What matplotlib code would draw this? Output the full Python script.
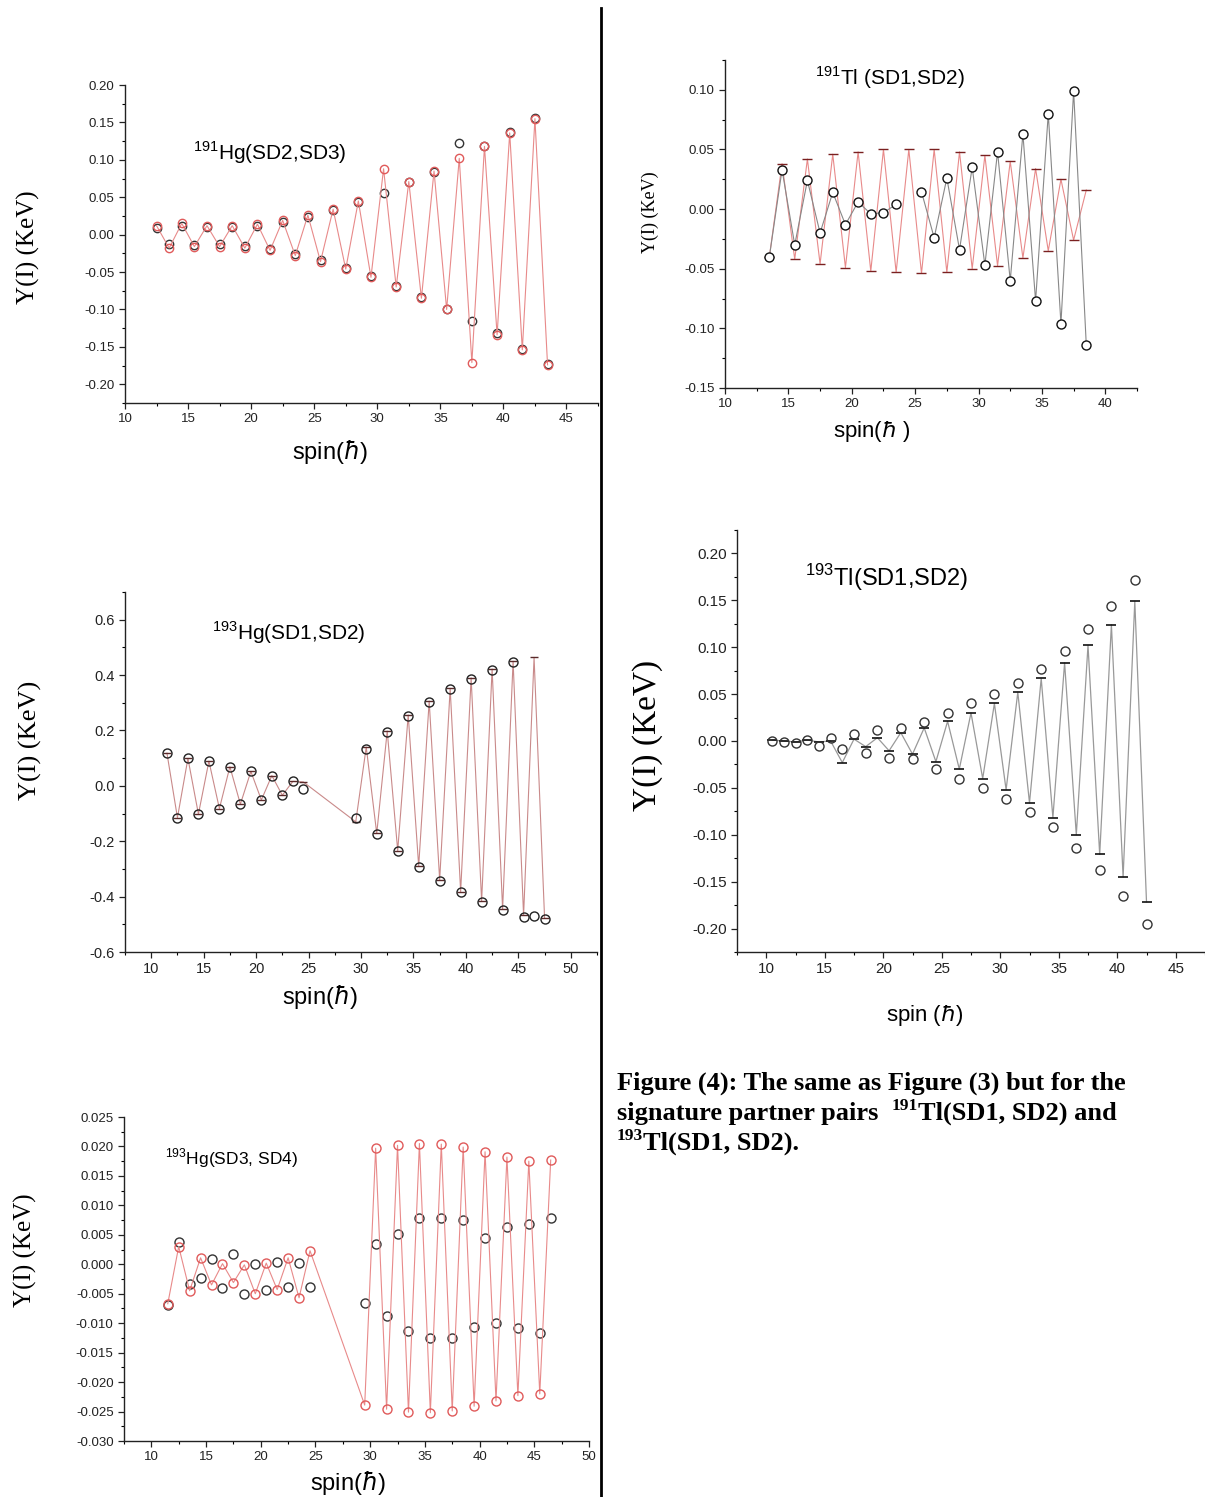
import numpy as np
import matplotlib
matplotlib.use('Agg')
import matplotlib.pyplot as plt
from matplotlib.lines import Line2D
from matplotlib.ticker import MultipleLocator, FormatStrFormatter

plt.rcParams['font.family'] = ['Liberation Sans', 'DejaVu Sans']
plt.rcParams['axes.unicode_minus'] = False

W, H = 1205, 1497

# ---------------- data ----------------
# 191Hg(SD2,SD3)
hg191_spin = [12.5, 13.5, 14.5, 15.5, 16.5, 17.5, 18.5, 19.5, 20.5, 21.5, 22.5, 23.5, 24.5, 25.5, 26.5, 27.5,
              28.5, 29.5, 30.5, 31.5, 32.5, 33.5, 34.5, 35.5, 36.5, 37.5, 38.5, 39.5, 40.5, 41.5, 42.5, 43.5]
hg191_red = [0.012, -0.018, 0.015, -0.016, 0.012, -0.016, 0.012, -0.018, 0.014, -0.021, 0.019, -0.028, 0.026, -0.036,
             0.034, -0.046, 0.045, -0.057, 0.088, -0.070, 0.071, -0.085, 0.085, -0.100, 0.102, -0.171, 0.118, -0.134,
             0.136, -0.154, 0.155, -0.174]
hg191_black = [0.009, -0.013, 0.012, -0.014, 0.010, -0.013, 0.010, -0.015, 0.012, -0.019, 0.017, -0.026, 0.024, -0.034,
               0.033, -0.045, 0.044, -0.055, 0.056, -0.068, 0.070, -0.083, 0.084, -0.099, 0.123, -0.116, 0.119, -0.132,
               0.137, -0.153, 0.156, -0.173]

# 191Tl(SD1,SD2)
tl191_spin = [13.5, 14.5, 15.5, 16.5, 17.5, 18.5, 19.5, 20.5, 21.5, 22.5, 23.5, 24.5, 25.5, 26.5, 27.5, 28.5,
              29.5, 30.5, 31.5, 32.5, 33.5, 34.5, 35.5, 36.5, 37.5, 38.5]
tl191_black = [-0.040, 0.033, -0.030, 0.024, -0.020, 0.014, -0.013, 0.006, -0.004, -0.003, 0.004, np.nan, 0.0145,
               -0.024, 0.026, -0.034, 0.035, -0.047, 0.048, -0.060, 0.063, -0.077, 0.080, -0.096, 0.099, -0.114]
tl191_red = [-0.040, 0.038, -0.042, 0.042, -0.046, 0.046, -0.049, 0.048, -0.052, 0.050, -0.053, 0.050, -0.054,
             0.050, -0.053, 0.048, -0.050, 0.045, -0.0475, 0.040, -0.041, 0.034, -0.035, 0.025, -0.026, 0.016]

# 193Hg(SD1,SD2)
hg193a_spin = [11.5, 12.5, 13.5, 14.5, 15.5, 16.5, 17.5, 18.5, 19.5, 20.5, 21.5, 22.5, 23.5, 24.5,
               29.5, 30.5, 31.5, 32.5, 33.5, 34.5, 35.5, 36.5, 37.5, 38.5, 39.5, 40.5, 41.5, 42.5, 43.5,
               44.5, 45.5, 46.5, 47.5]
hg193a_circ = [0.118, -0.115, 0.099, -0.102, 0.089, -0.082, 0.069, -0.066, 0.052, -0.051, 0.037, -0.034, 0.016,
               -0.011, -0.115, 0.133, -0.175, 0.194, -0.237, 0.252, -0.294, 0.304, -0.343, 0.348, -0.384, 0.386,
               -0.419, 0.418, -0.448, 0.446, -0.472, -0.470, -0.480]
hg193a_line = [0.118, -0.115, 0.099, -0.102, 0.089, -0.082, 0.069, -0.066, 0.052, -0.051, 0.037, -0.034, 0.016,
               0.014, -0.130, 0.140, -0.172, 0.198, -0.234, 0.256, -0.290, 0.306, -0.340, 0.352, -0.382, 0.390,
               -0.416, 0.422, -0.445, 0.450, -0.468, 0.464, -0.476]

# 193Tl(SD1,SD2)
tl193_spin = [10.5, 11.5, 12.5, 13.5, 14.5, 15.5, 16.5, 17.5, 18.5, 19.5, 20.5, 21.5, 22.5, 23.5, 24.5, 25.5,
              26.5, 27.5, 28.5, 29.5, 30.5, 31.5, 32.5, 33.5, 34.5, 35.5, 36.5, 37.5, 38.5, 39.5, 40.5, 41.5, 42.5]
tl193_circ = [0.000, -0.001, -0.0025, 0.001, -0.005, 0.003, -0.008, 0.0075, -0.0125, 0.0114, -0.018, 0.014,
              -0.019, 0.020, -0.030, 0.030, -0.040, 0.040, -0.050, 0.0506, -0.062, 0.062, -0.0756, 0.077, -0.092,
              0.096, -0.114, 0.119, -0.138, 0.1436, -0.165, 0.1715, -0.195]
tl193_line = [0.001, 0.0, -0.001, 0.001, -0.001, 0.0, -0.023, 0.002, -0.006, 0.0035, -0.0104, 0.0089, -0.014,
              0.014, -0.022, 0.021, -0.030, 0.030, -0.040, 0.040, -0.052, 0.052, -0.066, 0.0667, -0.0816, 0.0834,
              -0.100, 0.102, -0.121, 0.124, -0.145, 0.149, -0.1715]

# 193Hg(SD3,SD4)
hg193b_spin = [11.5, 12.5, 13.5, 14.5, 15.5, 16.5, 17.5, 18.5, 19.5, 20.5, 21.5, 22.5, 23.5, 24.5,
               29.5, 30.5, 31.5, 32.5, 33.5, 34.5, 35.5, 36.5, 37.5, 38.5, 39.5, 40.5, 41.5, 42.5, 43.5,
               44.5, 45.5, 46.5]
hg193b_red = [-0.0067, 0.0030, -0.0045, 0.0011, -0.0035, 0.0001, -0.0031, -0.0001, -0.0050, 0.0002, -0.0043,
              0.0011, -0.0057, 0.0023, -0.0239, 0.0197, -0.0246, 0.0202, -0.0251, 0.0205, -0.0252, 0.0204,
              -0.0249, 0.0199, -0.0241, 0.0191, -0.0232, 0.0182, -0.0223, 0.0175, -0.0220, 0.0177]
hg193b_black = [-0.0069, 0.0037, -0.0033, -0.0024, 0.0009, -0.0040, 0.0017, -0.0050, 0.0000, -0.0044, 0.0004,
                -0.0039, 0.0002, -0.0039, -0.0066, 0.0034, -0.0088, 0.0051, -0.0113, 0.0078, -0.0125, 0.0078,
                -0.0125, 0.0075, -0.0107, 0.0045, -0.0099, 0.0063, -0.0109, 0.0069, -0.0117, 0.0079]

RED = '#e05a5a'
RED_LINE = '#e88a8a'


def px_axes(fig, x0, y0, x1, y1):
    # pixel box (top-left origin) -> figure axes
    return fig.add_axes([x0 / W, 1 - y1 / H, (x1 - x0) / W, (y1 - y0) / H])


def ftext(fig, x, y, s, **kw):
    return fig.text(x / W, 1 - y / H, s, **kw)


def style(ax, xlim, ylim, xmaj, ymaj, ymin, yfmt, lsize=10):
    ax.set_xlim(*xlim)
    ax.set_ylim(*ylim)
    for s in ('top', 'right'):
        ax.spines[s].set_visible(False)
    ax.xaxis.set_major_locator(MultipleLocator(xmaj))
    ax.xaxis.set_minor_locator(MultipleLocator(xmaj / 2))
    ax.yaxis.set_major_locator(MultipleLocator(ymaj))
    ax.yaxis.set_minor_locator(MultipleLocator(ymin))
    ax.yaxis.set_major_formatter(FormatStrFormatter(yfmt))
    ax.xaxis.set_major_formatter(FormatStrFormatter('%d'))
    ax.tick_params(which='major', direction='out', length=4, width=0.9, labelsize=lsize, colors='#222222')
    ax.tick_params(which='minor', direction='out', length=2.5, width=0.8)
    for s in ('left', 'bottom'):
        ax.spines[s].set_linewidth(1.0)
        ax.spines[s].set_color('#222222')


fig = plt.figure(figsize=(W / 100, H / 100), dpi=100)
renderer = fig.canvas.get_renderer()

serif = ['Liberation Serif', 'DejaVu Serif']

# ---- panel 1 : 191Hg(SD2,SD3)
ax1 = px_axes(fig, 125, 85, 598, 403)
style(ax1, (10, 47.5), (-0.225, 0.20), 5, 0.05, 0.025, '%.2f', 9.5)
ax1.plot(hg191_spin, hg191_black, 'o', mfc='none', mec='#333333', ms=6, mew=1.0, ls='none')
ax1.plot(hg191_spin, hg191_red, '-o', color=RED_LINE, lw=0.8, mfc='none', mec=RED, ms=6, mew=1.0)
ftext(fig, 193, 153, r'$^{\mathregular{191}}$Hg(SD2,SD3)', fontsize=15, va='center')
ftext(fig, 28, 247, 'Y(I) (KeV)', family=serif, fontsize=18, rotation=90, ha='center', va='center')
ftext(fig, 330, 452, r'spin($\hbar$)', fontsize=17, ha='center', va='center')

# ---- panel 2 : 191Tl(SD1,SD2)
ax2 = px_axes(fig, 725, 60, 1137, 388)
style(ax2, (10, 42.5), (-0.15, 0.125), 5, 0.05, 0.025, '%.2f', 9.5)
ax2.plot(tl191_spin, tl191_red, '-', color=RED_LINE, lw=0.8, marker='_', mec='#7a2020', ms=7, mew=1.0)
ax2.plot(tl191_spin, tl191_black, '-o', color='#888888', lw=0.8, mfc='white', mec='#111111', ms=6.5, mew=1.0)
ftext(fig, 815, 78, r'$^{\mathregular{191}}$Tl (SD1,SD2)', fontsize=15, va='center')
ftext(fig, 650, 212, 'Y(I) (KeV)', family=serif, fontsize=13, rotation=90, ha='center', va='center')
ftext(fig, 872, 432, r'spin($\hbar$ )', fontsize=16, ha='center', va='center')

# ---- panel 3 : 193Hg(SD1,SD2)
ax3 = px_axes(fig, 125, 592, 597, 952)
style(ax3, (7.5, 52.5), (-0.6, 0.7), 5, 0.2, 0.1, '%.1f', 10.5)
ax3.plot(hg193a_spin, hg193a_line, '-', color='#c98a8a', lw=0.8, marker='_', mec='#5a2a2a', ms=6, mew=1.0)
ax3.plot(hg193a_spin, hg193a_circ, 'o', mfc='none', mec='#222222', ms=6.5, mew=1.0, ls='none')
ftext(fig, 212, 633, r'$^{\mathregular{193}}$Hg(SD1,SD2)', fontsize=15, va='center')
ftext(fig, 30, 740, 'Y(I) (KeV)', family=serif, fontsize=19, rotation=90, ha='center', va='center')
ftext(fig, 320, 997, r'spin($\hbar$)', fontsize=17, ha='center', va='center')

# ---- panel 4 : 193Tl(SD1,SD2)
ax4 = px_axes(fig, 737, 530, 1205, 952)
style(ax4, (7.5, 47.5), (-0.225, 0.225), 5, 0.05, 0.025, '%.2f', 11)
ax4.plot(tl193_spin, tl193_line, '-', color='#999999', lw=0.9, marker='_', mec='#111111', ms=7, mew=1.2)
ax4.plot(tl193_spin, tl193_circ, 'o', mfc='none', mec='#333333', ms=6.5, mew=1.0, ls='none')
ftext(fig, 805, 578, r'$^{\mathregular{193}}$Tl(SD1,SD2)', fontsize=17, va='center')
ftext(fig, 648, 735, 'Y(I) (KeV)', family=serif, fontsize=24, rotation=90, ha='center', va='center')
ftext(fig, 925, 1015, r'spin ($\hbar$)', fontsize=16, ha='center', va='center')

# ---- panel 5 : 193Hg(SD3,SD4)
ax5 = px_axes(fig, 124, 1117, 589, 1441)
style(ax5, (7.5, 50), (-0.030, 0.025), 5, 0.005, 0.0025, '%.3f', 9.5)
ax5.plot(hg193b_spin, hg193b_black, 'o', mfc='none', mec='#333333', ms=6.5, mew=1.0, ls='none')
ax5.plot(hg193b_spin, hg193b_red, '-o', color=RED_LINE, lw=0.8, mfc='none', mec=RED, ms=6.5, mew=1.0)
ftext(fig, 165, 1158, r'$^{\mathregular{193}}$Hg(SD3, SD4)', fontsize=12.5, va='center')
ftext(fig, 25, 1250, 'Y(I) (KeV)', family=serif, fontsize=18, rotation=90, ha='center', va='center')
ftext(fig, 348, 1483, r'spin($\hbar$)', fontsize=17, ha='center', va='center')

# ---- caption (superscripts drawn as separate small texts)
cap = dict(family=serif, fontsize=19, fontweight='bold', va='baseline', ha='left')
sup = dict(family=serif, fontsize=12.5, fontweight='bold', va='baseline', ha='left')


def run(x, y, parts):
    # draw a line of (text, is_superscript) pieces one after another
    for s, is_sup in parts:
        if is_sup:
            t = ftext(fig, x, y - 10, s, **sup)
        else:
            t = ftext(fig, x, y, s, **cap)
        x += t.get_window_extent(renderer).width


run(617, 1090, [('Figure (4): The same as Figure (3) but for the', False)])
run(617, 1120, [('signature partner pairs  ', False), ('191', True), ('Tl(SD1, SD2) and', False)])
run(617, 1150, [('193', True), ('Tl(SD1, SD2).', False)])

# vertical divider
fig.add_artist(Line2D([601 / W, 601 / W], [1 - 8 / H, 0], color='black', lw=2))

fig.savefig('out.png', dpi=100)
